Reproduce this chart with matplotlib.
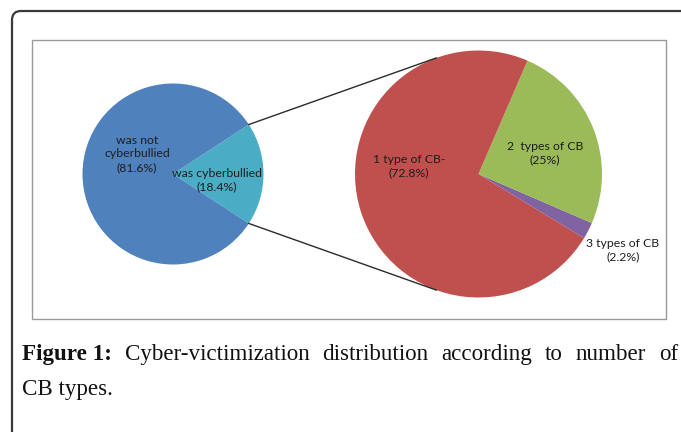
import numpy as np
import matplotlib
matplotlib.use("Agg")
import matplotlib.pyplot as plt
from matplotlib.lines import Line2D
from matplotlib.patches import FancyBboxPatch, Rectangle

# overall split
main_labels = ["was cyberbullied\n(18.4%)", "was not\ncyberbullied\n(81.6%)"]
main_values = [18.4, 81.6]
main_colors = ["#4BACC6", "#4F81BD"]

# breakdown of the cyberbullied share
sub_labels = ["3 types of CB\n(2.2%)", "2  types of CB\n(25%)", "1 type of CB-\n(72.8%)"]
sub_values = [2.2, 25.0, 72.8]
sub_colors = ["#8064A2", "#9BBB59", "#C0504D"]

caption_bold = "Figure 1:"
caption_line1 = "Cyber-victimization distribution according to number of"
caption_line2 = "CB types."

W, H = 681, 432
fig = plt.figure(figsize=(W / 100, H / 100), dpi=100)
fig.patch.set_facecolor("white")


def px(x, y):
    return x / W, 1 - y / H


def pie_axes(cx, cy, r):
    return fig.add_axes([(cx - r) / W, 1 - (cy + r) / H, 2 * r / W, 2 * r / H])


# frames drawn in a background axes with pixel coordinates
bg = fig.add_axes([0, 0, 1, 1], zorder=-1)
bg.set_xlim(0, W)
bg.set_ylim(H, 0)
bg.axis("off")
bg.add_patch(FancyBboxPatch((12, 11), 700, 460, boxstyle="round,pad=0,rounding_size=9",
                            fc="none", ec="#3a3a3a", lw=1.6))
bg.add_patch(Rectangle((32, 40), 634, 279, fc="white", ec="#9a9a9a", lw=1.0))

# left pie, cyberbullied wedge centred on the right side
lcx, lcy, lr = 173, 174, 90.5
axl = pie_axes(lcx, lcy, lr)
wl, _ = axl.pie(main_values, colors=main_colors, startangle=-main_values[0] * 3.6 / 2,
                counterclock=True, wedgeprops=dict(linewidth=0))
axl.set_xlim(-1, 1)
axl.set_ylim(-1, 1)
axl.set_aspect("auto")

# right pie
rcx, rcy, rr = 478.5, 174, 123.5
axr = pie_axes(rcx, rcy, rr)
wr, _ = axr.pie(sub_values, colors=sub_colors, startangle=-31.3, counterclock=True,
                wedgeprops=dict(linewidth=0))
axr.set_xlim(-1, 1)
axr.set_ylim(-1, 1)
axr.set_aspect("auto")

# connector lines from the cyberbullied wedge to the second pie
t1, t2 = wl[0].theta1, wl[0].theta2
for ang_l, ang_r in [(t2, 110), (t1, -110)]:
    x0 = lcx + lr * np.cos(np.radians(ang_l))
    y0 = lcy - lr * np.sin(np.radians(ang_l))
    x1 = rcx + rr * np.cos(np.radians(ang_r))
    y1 = rcy - rr * np.sin(np.radians(ang_r))
    fig.add_artist(Line2D([x0 / W, x1 / W], [1 - y0 / H, 1 - y1 / H],
                          transform=fig.transFigure, color="#2b2b2b", lw=1.0))

lab_font = dict(family="Lato", fontsize=8.8, color="#1e1e1e", ha="center", va="center",
                linespacing=1.3)
label_pos = {
    main_labels[1]: (137, 154),
    main_labels[0]: (217, 180),
    sub_labels[2]: (409, 166),
    sub_labels[1]: (545, 153),
    sub_labels[0]: (623, 250),
}
for text, (x, y) in label_pos.items():
    fig.text(*px(x, y), text, **lab_font)

# justified caption
cap_font = dict(family="Liberation Serif", fontsize=16.6, color="#111111", va="baseline")
renderer = fig.canvas.get_renderer()
words = [(caption_bold, "bold")] + [(w, "normal") for w in caption_line1.split()]
arts = [fig.text(0, 1 - 360 / H, w, fontweight=wt, **cap_font) for w, wt in words]
widths = [a.get_window_extent(renderer).width for a in arts]
left, right = 22, 678
gap = (right - left - sum(widths)) / (len(arts) - 1)
x = left
for a, wd in zip(arts, widths):
    a.set_x(x / W)
    x += wd + gap
fig.text(left / W, 1 - 395 / H, caption_line2, **cap_font)

fig.savefig("out.png", dpi=100)
